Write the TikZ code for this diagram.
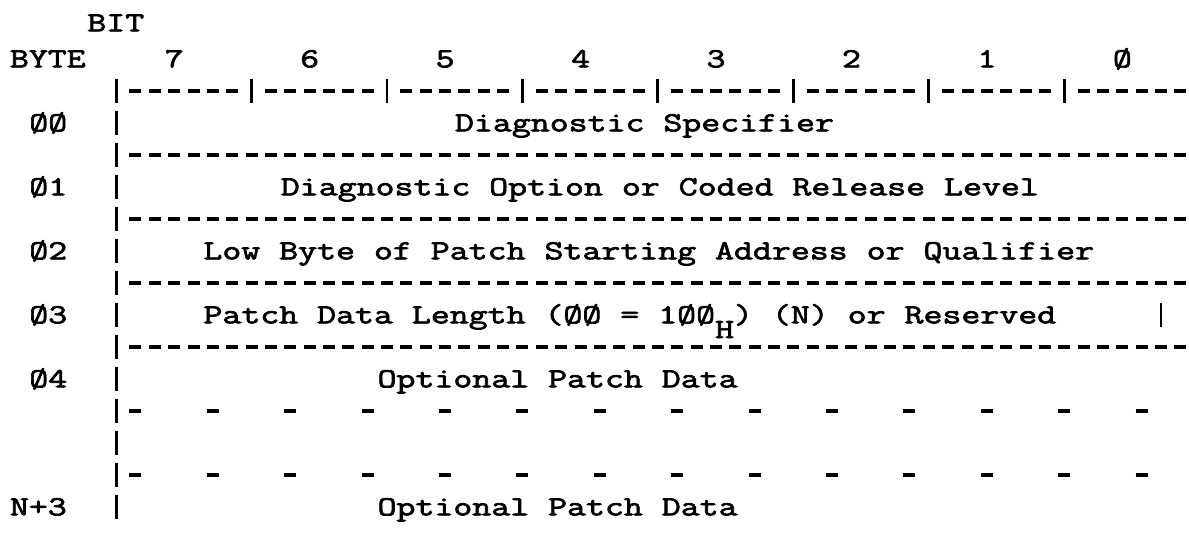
\documentclass[tikz,border=0pt]{standalone}
\usepackage{fontspec}
\newfontfamily\machine[FakeStretch=1.33,FakeBold=2.5]{Latin Modern Mono}
\newcommand{\indice}[1]{\raisebox{-11pt}{#1}}

\begin{document}
\begin{tikzpicture}[x=14.5125pt,y=24pt]
  \tikzstyle{champ}=[anchor=base west,inner sep=0pt,font=\machine\fontsize{20.75}{24}\selectfont]
\tikzset{trait/.style={line width=2.8pt,dash pattern=on 9pt off 5.5125pt},
barre/.style={line width=2.2pt}}
\useasboundingbox (-1,1.844) rectangle (60.447,-14.875);

\node[champ] (bit) at (3.5,0.865){BIT};
\node[champ] (byte) at (-0.5,-0.26){BYTE};
\node[champ] (b7) at (7.5,-0.26){7};
\node[champ] (b6) at (14.5,-0.26){6};
\node[champ] (b5) at (21.5,-0.26){5};
\node[champ] (b4) at (28.5,-0.26){4};
\node[champ] (b3) at (35.5,-0.26){3};
\node[champ] (b2) at (42.5,-0.26){2};
\node[champ] (b1) at (49.5,-0.26){1};
\node[champ] (b0) at (56.5,-0.26){Ø};

\node[champ] (o0) at (0.5,-2.26){ØØ};
\node[champ] (o1) at (0.5,-4.26){Ø1};
\node[champ] (o2) at (0.5,-6.26){Ø2};
\node[champ] (o3) at (0.5,-8.26){Ø3};
\node[champ] (o4) at (0.5,-10.26){Ø4};
\node[champ] (on) at (-0.5,-14.26){N+3};

\node[champ] (spec) at (22.5,-2.26){Diagnostic Specifier};
\node[champ] (opt) at (13.5,-4.26){Diagnostic Option or Coded Release Level};
\node[champ] (low) at (9.5,-6.26){Low Byte of Patch Starting Address or Qualifier};
\node[champ] (len) at (9.5,-8.26){Patch Data Length (ØØ = 1ØØ\indice{H}) (N) or Reserved};
\node[champ] (data) at (18.5,-10.26){Optional Patch Data};
\node[champ] (datan) at (18.5,-14.26){Optional Patch Data};

% lignes tiretees
\draw[trait,dash pattern=on 9pt off 5.5125pt on 9pt off 5.5125pt on 9pt off 5.5125pt
  on 9pt off 5.5125pt on 9pt off 5.5125pt on 9pt off 20.025pt] (5.69,-1) -- (60.31,-1);
\draw[trait] (5.69,-3) -- (60.31,-3);
\draw[trait] (5.69,-5) -- (60.31,-5);
\draw[trait] (5.69,-7) -- (60.31,-7);
\draw[trait] (5.69,-9) -- (60.31,-9);
\draw[trait,dash pattern=on 9pt off 49.05pt] (5.69,-11) -- (58.31,-11);
\draw[trait,dash pattern=on 9pt off 49.05pt] (5.69,-13) -- (58.31,-13);

% barres verticales
\draw[barre,dash pattern=on 18.72pt off 5.28pt] (5,-0.61) -- (5,-14.39);
\draw[barre] (12,-0.61) -- (12,-1.39) (19,-0.61) -- (19,-1.39)
  (26,-0.61) -- (26,-1.39) (33,-0.61) -- (33,-1.39)
  (40,-0.61) -- (40,-1.39) (47,-0.61) -- (47,-1.39)
  (54,-0.61) -- (54,-1.39);
\draw[barre] (59,-7.61) -- (59,-8.39);

  \end{tikzpicture}
\end{document}
